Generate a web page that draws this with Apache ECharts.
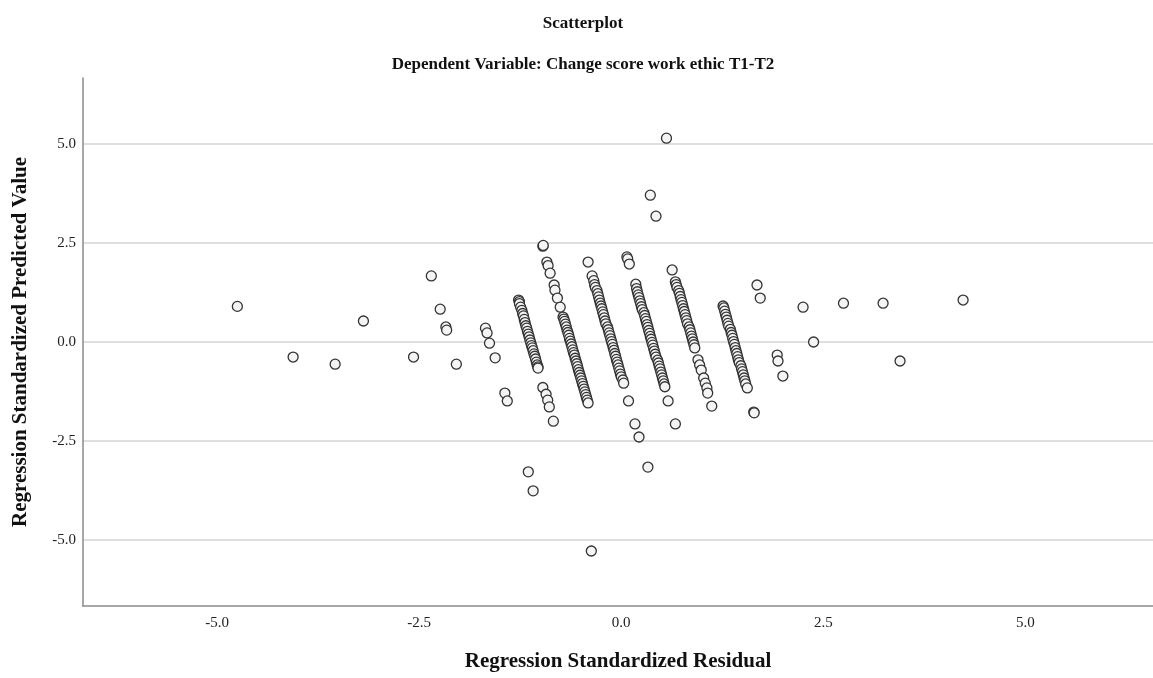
<!DOCTYPE html>
<html>
<head>
<meta charset="utf-8">
<script src="https://cdn.jsdelivr.net/npm/echarts@6/dist/echarts.min.js"></script>
<style>
html,body{margin:0;padding:0;background:#fff;}
#chart{width:1153px;height:678px;}
</style>
</head>
<body>
<div id="chart"></div>
<script>
// Chart texts
const titleText = 'Scatterplot';
const subtitleText = 'Dependent Variable: Change score work ethic T1-T2';
const xAxisName = 'Regression Standardized Residual';
const yAxisName = 'Regression Standardized Predicted Value';
const xTicks = [-5, -2.5, 0, 2.5, 5];
const yTicks = [-5, -2.5, 0, 2.5, 5];

// Points: [standardized residual, standardized predicted value]
const farLeft = [[-4.75,0.90],[-4.06,-0.38],[-3.54,-0.56],[-3.19,0.53],[-2.57,-0.38]];
const stripeM2 = [[-2.35,1.67],[-2.24,0.83],[-2.17,0.38],[-2.16,0.30],[-2.04,-0.56]];
const stripeM1 = [[-1.68,0.35],[-1.66,0.23],[-1.63,-0.03],[-1.56,-0.40],[-1.44,-1.29],[-1.41,-1.49],[-1.15,-3.28],[-1.09,-3.76]];
const stripeA = [[-1.27,1.06],[-1.26,1.02],[-1.26,0.97],[-1.245,0.88],[-1.23,0.80],[-1.22,0.72],[-1.21,0.66],[-1.20,0.57],
  [-1.19,0.49],[-1.18,0.41],[-1.17,0.35],[-1.16,0.27],[-1.15,0.20],[-1.14,0.13],[-1.13,0.05],[-1.12,-0.02],[-1.11,-0.09],
  [-1.10,-0.15],[-1.09,-0.22],[-1.08,-0.30],[-1.07,-0.36],[-1.06,-0.43],[-1.05,-0.51],[-1.04,-0.58],[-1.03,-0.63],[-1.03,-0.66],
  [-0.97,-1.15],[-0.93,-1.32],[-0.91,-1.47],[-0.89,-1.64],[-0.84,-2.00],[-0.37,-5.28]];
const stripeB = [[-0.97,2.42],[-0.965,2.44],[-0.92,2.02],[-0.905,1.93],[-0.88,1.74],[-0.83,1.44],[-0.82,1.31],[-0.79,1.11],[-0.755,0.88],
  [-0.72,0.63],[-0.71,0.58],[-0.70,0.52],[-0.69,0.45],[-0.68,0.38],[-0.67,0.30],[-0.66,0.24],[-0.65,0.17],[-0.64,0.09],[-0.63,0.02],
  [-0.62,-0.05],[-0.61,-0.12],[-0.60,-0.20],[-0.59,-0.27],[-0.58,-0.33],[-0.57,-0.41],[-0.56,-0.48],[-0.55,-0.55],[-0.54,-0.62],
  [-0.53,-0.70],[-0.52,-0.77],[-0.51,-0.84],[-0.50,-0.91],[-0.49,-0.98],[-0.48,-1.05],[-0.47,-1.12],[-0.46,-1.19],[-0.45,-1.26],
  [-0.44,-1.33],[-0.43,-1.40],[-0.42,-1.47],[-0.41,-1.54]];
const stripeC = [[-0.41,2.02],[-0.36,1.67],[-0.34,1.55],[-0.33,1.45],[-0.32,1.38],[-0.30,1.30],[-0.29,1.22],[-0.28,1.14],[-0.27,1.06],
  [-0.26,0.98],[-0.25,0.91],[-0.24,0.84],[-0.23,0.76],[-0.22,0.69],[-0.21,0.61],[-0.20,0.53],[-0.19,0.46],[-0.17,0.38],[-0.16,0.31],
  [-0.15,0.23],[-0.14,0.16],[-0.13,0.08],[-0.12,0.01],[-0.11,-0.06],[-0.10,-0.14],[-0.09,-0.21],[-0.08,-0.29],[-0.07,-0.36],
  [-0.06,-0.44],[-0.05,-0.51],[-0.04,-0.58],[-0.03,-0.66],[-0.02,-0.73],[-0.01,-0.81],[0.00,-0.88],[0.02,-0.96],[0.03,-1.04],
  [0.09,-1.49],[0.17,-2.07],[0.22,-2.40],[0.33,-3.16]];
const stripeD = [[0.07,2.15],[0.08,2.10],[0.10,1.97],[0.18,1.46],[0.19,1.35],[0.20,1.27],[0.21,1.19],[0.22,1.12],[0.23,1.04],
  [0.24,0.97],[0.25,0.89],[0.26,0.82],[0.28,0.74],[0.29,0.67],[0.30,0.59],[0.31,0.52],[0.32,0.44],[0.33,0.37],[0.34,0.29],
  [0.35,0.22],[0.36,0.14],[0.37,0.07],[0.38,-0.01],[0.39,-0.08],[0.40,-0.16],[0.41,-0.23],[0.42,-0.31],[0.43,-0.38],[0.45,-0.46],
  [0.46,-0.53],[0.47,-0.61],[0.48,-0.68],[0.49,-0.76],[0.50,-0.83],[0.51,-0.91],[0.52,-0.98],[0.53,-1.06],[0.54,-1.13],
  [0.58,-1.49],[0.67,-2.07]];
const stripeE = [[0.36,3.71],[0.43,3.18],[0.63,1.82],[0.67,1.52],[0.68,1.45],[0.69,1.38],[0.71,1.30],[0.72,1.23],[0.73,1.15],
  [0.74,1.07],[0.75,1.00],[0.76,0.92],[0.77,0.84],[0.78,0.77],[0.79,0.69],[0.80,0.61],[0.81,0.54],[0.82,0.46],[0.84,0.38],
  [0.85,0.31],[0.86,0.23],[0.87,0.15],[0.88,0.08],[0.89,0.00],[0.90,-0.07],[0.91,-0.15],[0.95,-0.45],[0.97,-0.58],[0.99,-0.71],
  [1.02,-0.91],[1.04,-1.04],[1.06,-1.16],[1.07,-1.29],[1.12,-1.62]];
const stripeF = [[1.26,0.91],[1.27,0.86],[1.28,0.78],[1.29,0.70],[1.30,0.63],[1.31,0.55],[1.32,0.47],[1.33,0.40],[1.35,0.32],
  [1.36,0.24],[1.37,0.17],[1.38,0.09],[1.39,0.01],[1.40,-0.06],[1.41,-0.14],[1.42,-0.22],[1.43,-0.29],[1.44,-0.37],[1.45,-0.45],
  [1.46,-0.52],[1.48,-0.60],[1.49,-0.68],[1.50,-0.75],[1.51,-0.83],[1.52,-0.91],[1.53,-0.98],[1.54,-1.06],[1.56,-1.16],
  [1.64,-1.77],[1.645,-1.79]];
const farRight = [[0.56,5.15],[1.68,1.44],[1.72,1.11],[1.93,-0.33],[1.94,-0.48],[2.00,-0.86],[2.25,0.88],[2.38,0.00],
  [2.75,0.98],[3.24,0.98],[3.45,-0.48],[4.23,1.06]];

const allPoints = [].concat(farLeft, stripeM2, stripeM1, stripeA, stripeB, stripeC, stripeD, stripeE, stripeF, farRight);

const serif = '"Liberation Serif", "DejaVu Serif", serif';
const chart = echarts.init(document.getElementById('chart'), null, {renderer: 'canvas'});
chart.setOption({
  backgroundColor: '#ffffff',
  animation: false,
  title: [
    {text: titleText, left: 583, top: 15, textAlign: 'center', padding: 0,
     textStyle: {fontFamily: serif, fontWeight: 'bold', fontSize: 17, color: '#111'}},
    {text: subtitleText, left: 583, top: 56, textAlign: 'center', padding: 0,
     textStyle: {fontFamily: serif, fontWeight: 'bold', fontSize: 17, color: '#111'}}
  ],
  grid: {left: 83, right: 0, top: 78, bottom: 72, containLabel: false},
  xAxis: {
    type: 'value', min: -6.66, max: 6.58,
    name: xAxisName, nameLocation: 'middle', nameGap: 45,
    nameTextStyle: {fontFamily: serif, fontWeight: 'bold', fontSize: 21, color: '#111'},
    axisLine: {show: true, onZero: false, lineStyle: {color: '#8a8a8a', width: 1.5}},
    axisTick: {show: false, customValues: xTicks},
    axisLabel: {customValues: xTicks, formatter: v => v.toFixed(1), fontFamily: serif, fontSize: 15, color: '#222', margin: 10},
    splitLine: {show: false}
  },
  yAxis: {
    type: 'value', min: -6.67, max: 6.67,
    name: yAxisName, nameLocation: 'middle', nameGap: 52, nameRotate: 90,
    nameTextStyle: {fontFamily: serif, fontWeight: 'bold', fontSize: 21, color: '#111'},
    axisLine: {show: true, onZero: false, lineStyle: {color: '#8a8a8a', width: 1.5}},
    axisTick: {show: false, customValues: yTicks},
    axisLabel: {customValues: yTicks, formatter: v => v.toFixed(1), fontFamily: serif, fontSize: 15, color: '#222', margin: 7},
    splitLine: {show: true, lineStyle: {color: '#d4d4d4', width: 1.5}}
  },
  series: [{
    type: 'scatter',
    data: allPoints,
    symbol: 'circle',
    symbolSize: 10,
    itemStyle: {color: '#f4f4f4', borderColor: '#333333', borderWidth: 1.3, opacity: 1}
  }]
});
</script>
</body>
</html>
